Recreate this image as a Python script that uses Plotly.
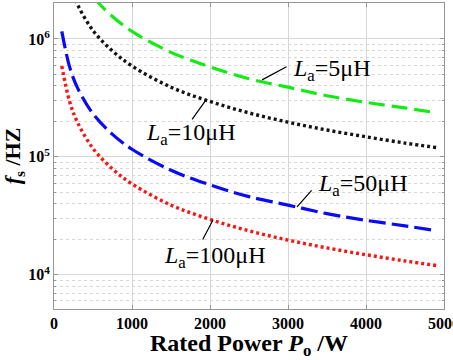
import math
import plotly.graph_objects as go

# Rated power (W) sample points
power = [100, 200, 300, 500, 750, 1000, 1500, 2000, 2500, 3000, 3500, 4000, 4500, 4900]

# Switching frequency (Hz)
fs_5uH = [1.16e7, 5.8e6, 3.9e6, 2.3e6, 1.55e6, 1.16e6, 7.7e5, 5.8e5, 4.6e5, 3.9e5, 3.3e5, 2.9e5, 2.6e5, 2.37e5]
fs_10uH = [5.9e6, 2.95e6, 1.97e6, 1.18e6, 7.9e5, 5.9e5, 3.9e5, 2.95e5, 2.36e5, 1.97e5, 1.69e5, 1.48e5, 1.31e5, 1.2e5]
fs_50uH = [1.16e6, 5.8e5, 3.87e5, 2.32e5, 1.55e5, 1.16e5, 7.7e4, 5.8e4, 4.6e4, 3.9e4, 3.3e4, 2.9e4, 2.6e4, 2.37e4]
fs_100uH = [5.9e5, 2.95e5, 1.97e5, 1.18e5, 7.9e4, 5.9e4, 3.9e4, 2.95e4, 2.36e4, 1.97e4, 1.69e4, 1.48e4, 1.31e4, 1.2e4]

x_ticks = [0, 1000, 2000, 3000, 4000, 5000]
y_ticks = [1e4, 1e5, 1e6]
y_tick_text = ["10<sup>4</sup>", "10<sup>5</sup>", "10<sup>6</sup>"]
y_minor = [m * 10 ** e for e in (3, 4, 5, 6) for m in range(2, 10)]

labels = ["<i>L</i><sub>a</sub>=5μH", "<i>L</i><sub>a</sub>=10μH",
          "<i>L</i><sub>a</sub>=50μH", "<i>L</i><sub>a</sub>=100μH"]

serif = "Liberation Serif, Times New Roman, serif"

fig = go.Figure()
series = [
    (fs_5uH, "rgb(20,235,20)", "16px,7px", 3.2),
    (fs_10uH, "rgb(20,20,20)", "3px,3px", 3.4),
    (fs_50uH, "rgb(10,10,245)", "17px,6px", 3.2),
    (fs_100uH, "rgb(250,20,20)", "3px,3px", 3.4),
]
for ys, c, d, w in series:
    fig.add_trace(go.Scatter(x=power, y=ys, mode="lines",
                             line=dict(color=c, dash=d, width=w, shape="spline", smoothing=1.0),
                             showlegend=False, hoverinfo="skip"))

ann_font = dict(family=serif, size=24, color="black")
# pointer: head on curve (P, f), tail offset in px
pointers = [(2667, 4.5e5, 26, -14), (1949, 3.04e5, -15, 21),
            (3115, 3.77e4, 16, -18), (2038, 2.92e4, -11, 21)]
for px, py, ax, ay in pointers:
    fig.add_annotation(x=px, y=math.log10(py), ax=ax, ay=ay, text="",
                       showarrow=True, arrowhead=0, arrowwidth=1.2, arrowcolor="black", standoff=0)
# label text positions (P, log10 f), left-anchored
label_pos = [(3051, 5.74), (1167, 5.19), (3372, 4.765), (1397, 4.155)]
for (lx, ly), t in zip(label_pos, labels):
    fig.add_annotation(x=lx, y=ly, text=t, showarrow=False, xanchor="left", yanchor="middle",
                       font=ann_font, borderpad=0)

fig.update_layout(
    width=453, height=360,
    margin=dict(l=54, r=9, t=3, b=51, autoexpand=False),
    paper_bgcolor="white", plot_bgcolor="white",
    font=dict(family=serif, color="black"),
)
fig.update_xaxes(
    range=[0, 5000], tickvals=x_ticks, ticktext=[str(v) for v in x_ticks],
    tickfont=dict(family=serif, size=16, weight="bold"), automargin=False,
    ticklabeloverflow="allow",
    showgrid=True, gridcolor="rgb(215,215,215)", gridwidth=1,
    showline=True, linecolor="rgb(150,150,150)", linewidth=1, mirror="ticks",
    ticks="inside", ticklen=4, tickcolor="rgb(150,150,150)", zeroline=False,
    title=dict(text="<b>Rated Power <i>P</i><sub>o</sub> /W</b>", font=dict(family=serif, size=24), standoff=0),
)
fig.update_yaxes(
    type="log", range=[3.71, 6.305], automargin=False,
    tickvals=y_ticks, ticktext=y_tick_text,
    tickfont=dict(family=serif, size=16, weight="bold"),
    showgrid=True, gridcolor="rgb(215,215,215)", gridwidth=1,
    minor=dict(tickvals=y_minor, showgrid=True, gridcolor="rgb(215,215,215)", griddash="dot",
               ticks="inside", ticklen=2, tickcolor="rgb(150,150,150)"),
    showline=True, linecolor="rgb(150,150,150)", linewidth=1, mirror="ticks",
    ticks="inside", ticklen=4, tickcolor="rgb(150,150,150)", zeroline=False,
    title=dict(text="<b><i>f</i><sub>s</sub> /HZ</b>", font=dict(family=serif, size=22), standoff=2),
)
fig.write_html("out.html", config={"displayModeBar": False},
               post_script="document.body.style.margin='0';")
